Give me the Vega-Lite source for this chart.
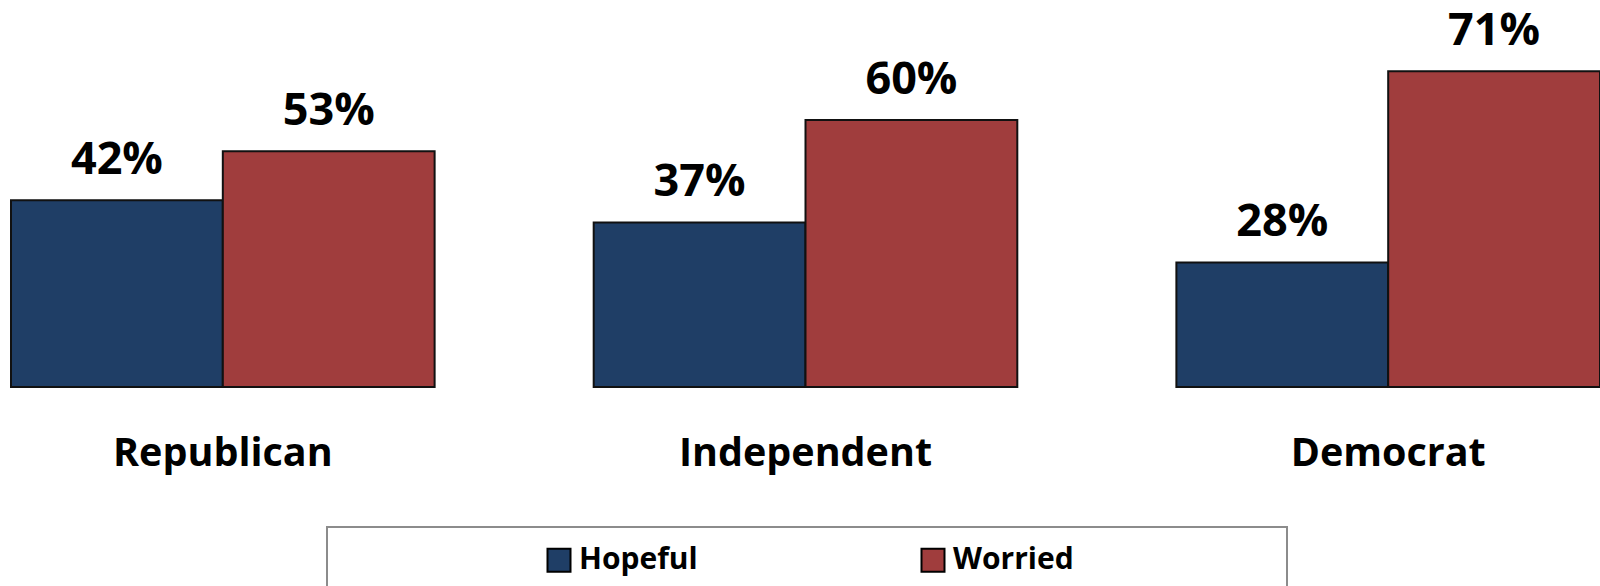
{
  "$schema": "https://vega.github.io/schema/vega-lite/v6.json",
  "width": 1600,
  "height": 387,
  "autosize": {"type": "none"},
  "padding": {"left": 0, "top": 0, "right": 0, "bottom": 199},
  "background": "white",
  "config": {"view": {"stroke": null}, "font": "Open Sans"},
  "data": {"values": [
    {"party": "Republican", "series": "Hopeful", "value": 42, "label": "42%"},
    {"party": "Republican", "series": "Worried", "value": 53, "label": "53%"},
    {"party": "Independent", "series": "Hopeful", "value": 37, "label": "37%"},
    {"party": "Independent", "series": "Worried", "value": 60, "label": "60%"},
    {"party": "Democrat", "series": "Hopeful", "value": 28, "label": "28%"},
    {"party": "Democrat", "series": "Worried", "value": 71, "label": "71%"}
  ]},
  "encoding": {
    "x": {
      "field": "party", "type": "nominal",
      "sort": ["Republican", "Independent", "Democrat"],
      "scale": {"paddingInner": 0.273, "paddingOuter": 0.00944, "align": 1},
      "axis": {"title": null, "domain": false, "ticks": false, "tickSize": 0, "labelAngle": 0,
               "labelFont": "Open Sans", "labelFontWeight": "bold", "labelFontSize": 39.5,
               "labelColor": "black", "labelPadding": 47, "labelBaseline": "top", "labelLimit": 0}
    },
    "xOffset": {"field": "series", "type": "nominal", "sort": ["Hopeful", "Worried"],
                "scale": {"paddingInner": 0, "paddingOuter": 0}},
    "y": {"field": "value", "type": "quantitative", "scale": {"domain": [0, 87], "nice": false}, "axis": null}
  },
  "layer": [
    {
      "mark": {"type": "bar", "stroke": "#111111", "strokeWidth": 2},
      "encoding": {
        "color": {
          "field": "series", "type": "nominal",
          "scale": {"domain": ["Hopeful", "Worried"], "range": ["#1F3E66", "#A03D3D"]},
          "legend": {
            "orient": "none", "legendX": 327, "legendY": 527, "direction": "horizontal",
            "title": " ", "titleOrient": "left", "titleFontSize": 30, "titlePadding": 199,
            "padding": 18, "strokeColor": "#8c8c8c", "fillColor": "white",
            "symbolType": "square", "symbolSize": 529, "symbolStrokeColor": "black", "symbolStrokeWidth": 2,
            "labelFont": "Open Sans", "labelFontWeight": "bold", "labelFontSize": 30, "labelColor": "black",
            "labelOffset": 5, "columnPadding": 219, "labelLimit": 0,
            "labelExpr": "datum.label == 'Worried' ? 'Worried\u2003\u2003\u2003\u2003\u2003\u2003\u2002\u200B' : datum.label",
            "encode": {"legend": {"update": {"strokeWidth": {"value": 2}}}}
          }
        }
      }
    },
    {
      "mark": {"type": "text", "baseline": "alphabetic", "dy": -26, "fontSize": 45, "fontWeight": "bold",
               "font": "Open Sans", "color": "black"},
      "encoding": {"text": {"field": "label", "type": "nominal"}}
    }
  ]
}
